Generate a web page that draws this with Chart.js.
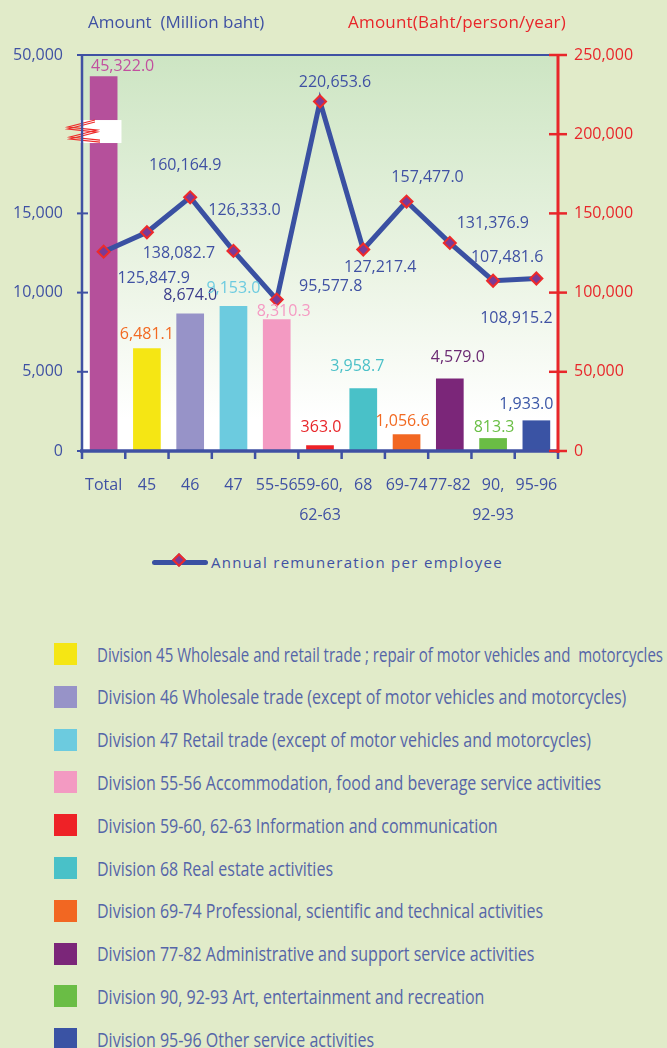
<!DOCTYPE html>
<html>
<head>
<meta charset="utf-8">
<script src="https://cdn.jsdelivr.net/npm/chart.js@4.4.1/dist/chart.umd.min.js"></script>
<style>
    body { margin: 0; background: #e1ebc9; width: 667px; height: 1048px; overflow: hidden; font-family: "Open Sans", sans-serif; }
    #wrap { position: relative; width: 667px; height: 540px; }
    .axis-title { position: absolute; top: 10px; font-size: 17px; white-space: pre; }
    #lineLegend { position: absolute; left: 152px; top: 550px; height: 24px; display: flex; align-items: center; }
    #lineLegend .swatch { position: relative; width: 56px; height: 5px; background: #3a50a2; border-radius: 3px; }
    #lineLegend .dot { position: absolute; left: 22px; top: -5px; width: 10px; height: 10px; background: #7a3a96; border: 2px solid #ee2a2a; box-sizing: border-box; transform: rotate(45deg); }
    #lineLegend span { margin-left: 3px; color: #3f51a3; font-size: 15px; letter-spacing: 1.3px; }
    .div-row { position: absolute; left: 54px; height: 24px; display: flex; align-items: center; }
    .div-row .box { width: 23px; height: 22px; }
    .div-row .txt { position: absolute; left: 43px; white-space: pre; font-size: 20px; color: #5565a8; transform-origin: left center; }
</style>
</head>
<body>
<div id="wrap">
    <canvas id="chart" width="667" height="540"></canvas>
    <div class="axis-title" style="left:88px;color:#3f51a3">Amount  (Million baht)</div>
    <div class="axis-title" style="left:348px;color:#e8262a;letter-spacing:0.2px">Amount(Baht/person/year)</div>
</div>
<div id="lineLegend"><div class="swatch"><div class="dot"></div></div><span>Annual remuneration per employee</span></div>
<div id="divLegend"></div>

<script>
// Data
const categories = ['Total', '45', '46', '47', '55-56', ['59-60,', '62-63'], '68', '69-74', '77-82', ['90,', '92-93'], '95-96'];
const amountMillion = [45322.0, 6481.1, 8674.0, 9153.0, 8310.3, 363.0, 3958.7, 1056.6, 4579.0, 813.3, 1933.0];
const remuneration = [125847.9, 138082.7, 160164.9, 126333.0, 95577.8, 220653.6, 127217.4, 157477.0, 131376.9, 107481.6, 108915.2];
const leftTicks = [0, 5000, 10000, 15000, 50000];
const rightTicks = [0, 50000, 100000, 150000, 200000, 250000];

const barColors = ['#b5509b', '#f5e614', '#9793c8', '#6ccbdf', '#f39ac2', '#ee2227', '#49c1c8', '#f26722', '#7b2679', '#6abd45', '#3a53a4'];
const barLabelColors = ['#c2509f', '#f26a22', '#3b3d8c', '#6ccbe0', '#f59ac3', '#e8262a', '#4bc0c8', '#f26a22', '#6b2a73', '#6abf45', '#3a56a6'];

const divisionNames = [
    'Division 45 Wholesale and retail trade ; repair of motor vehicles and  motorcycles',
    'Division 46 Wholesale trade (except of motor vehicles and motorcycles)',
    'Division 47 Retail trade (except of motor vehicles and motorcycles)',
    'Division 55-56 Accommodation, food and beverage service activities',
    'Division 59-60, 62-63 Information and communication',
    'Division 68 Real estate activities',
    'Division 69-74 Professional, scientific and technical activities',
    'Division 77-82 Administrative and support service activities',
    'Division 90, 92-93 Art, entertainment and recreation',
    'Division 95-96 Other service activities'
];

// where the value labels sit (dx, dy from the bar top / point)
const barLabelOffsets = [[19, -10], [0, -14], [0, -18], [0, -18], [7, -8], [1, -18], [-6, -22], [-4, -13], [8, -21], [1, -11], [-10, -16]];
const lineLabelOffsets = [[50, 27], [32, 21], [-5, -32], [11, -40], [54, -13], [15, -19], [17, 18], [21, -24], [43, -19], [14, -23], [-20, 40]];

// broken left axis: above 15,000 the scale is compressed
const BREAK_AT = 15000;
const BREAK_TOP = 50000;
const AXIS_TOP = 25000;
const BREAK_K = (AXIS_TOP - BREAK_AT) / (BREAK_TOP - BREAK_AT);
function toAxis(v) {
    return v <= BREAK_AT ? v : BREAK_AT + (v - BREAK_AT) * BREAK_K;
}

const fmt1 = v => v.toLocaleString('en-US', { minimumFractionDigits: 1, maximumFractionDigits: 1 });
const fmt0 = v => v.toLocaleString('en-US');

const BLUE = '#3f51a3';
const RED = '#e8262a';

// Plot background gradient
const plotBackground = {
    id: 'plotBackground',
    beforeDraw(chart) {
        const { ctx, chartArea: a } = chart;
        const g = ctx.createLinearGradient(0, a.top, 0, a.bottom);
        g.addColorStop(0, '#cde5c3');
        g.addColorStop(0.55, '#ebf4e4');
        g.addColorStop(0.92, '#ffffff');
        ctx.save();
        ctx.fillStyle = g;
        ctx.fillRect(a.left, a.top, a.right - a.left, a.bottom - a.top);
        ctx.restore();
    }
};

// Axis lines, ticks, break mark and value labels
const decorations = {
    id: 'decorations',
    afterDatasetsDraw(chart) {
        const { ctx, chartArea: a, scales } = chart;
        const y = scales.y, y2 = scales.y2;
        ctx.save();

        // break on the Total bar
        const bar = chart.getDatasetMeta(0).data[0];
        const by = y.getPixelForValue(20200);
        ctx.fillStyle = '#ffffff';
        ctx.fillRect(a.left - 2, by - 11, bar.x + bar.width / 2 + 4 - (a.left - 2), 23);
        ctx.strokeStyle = '#ee2a2a';
        ctx.lineWidth = 1.2;
        [0, 2].forEach(off => {
            ctx.beginPath();
            ctx.moveTo(a.left + 13, by - 11 + off);
            ctx.lineTo(a.left - 14, by - 4 + off);
            ctx.lineTo(a.left + 15, by - 1 + off);
            ctx.lineTo(a.left - 12, by + 6 + off);
            ctx.lineTo(a.left + 18, by + 9 + off);
            ctx.stroke();
        });

        // top border
        ctx.strokeStyle = BLUE;
        ctx.lineWidth = 2;
        ctx.beginPath();
        ctx.moveTo(a.left, a.top);
        ctx.lineTo(a.right, a.top);
        ctx.stroke();

        // left axis
        ctx.lineWidth = 2.5;
        ctx.beginPath();
        ctx.moveTo(a.left, a.top);
        ctx.lineTo(a.left, a.bottom);
        ctx.stroke();
        ctx.lineWidth = 2;
        leftTicks.forEach((t, i) => {
            const py = y.getPixelForValue(toAxis(t));
            ctx.beginPath();
            ctx.moveTo(a.left - 5, py);
            ctx.lineTo(a.left + (i === leftTicks.length - 1 ? 0 : 6), py);
            ctx.stroke();
        });

        // x axis
        ctx.lineWidth = 3.5;
        ctx.beginPath();
        ctx.moveTo(a.left - 2, a.bottom);
        ctx.lineTo(a.right, a.bottom);
        ctx.stroke();
        ctx.lineWidth = 2.5;
        const step = (a.right - a.left) / categories.length;
        for (let i = 0; i <= categories.length; i++) {
            const px = a.left + i * step;
            ctx.beginPath();
            ctx.moveTo(px, a.bottom);
            ctx.lineTo(px, a.bottom + 8);
            ctx.stroke();
        }

        // right axis
        ctx.strokeStyle = RED;
        ctx.lineWidth = 3;
        ctx.beginPath();
        ctx.moveTo(a.right, a.top);
        ctx.lineTo(a.right, a.bottom + 2);
        ctx.stroke();
        ctx.lineWidth = 2.5;
        rightTicks.forEach(t => {
            const py = y2.getPixelForValue(t);
            ctx.beginPath();
            ctx.moveTo(a.right - 9, py);
            ctx.lineTo(a.right + 9, py);
            ctx.stroke();
        });
        ctx.restore();
    },
    afterDraw(chart) {
        const { ctx } = chart;
        ctx.save();
        ctx.font = '16px "Open Sans"';
        ctx.textAlign = 'center';
        ctx.textBaseline = 'middle';
        chart.getDatasetMeta(0).data.forEach((bar, i) => {
            const [dx, dy] = barLabelOffsets[i];
            ctx.fillStyle = barLabelColors[i];
            ctx.fillText(fmt1(amountMillion[i]), bar.x + dx, bar.y + dy);
        });
        ctx.fillStyle = BLUE;
        chart.getDatasetMeta(1).data.forEach((pt, i) => {
            const [dx, dy] = lineLabelOffsets[i];
            ctx.fillText(fmt1(remuneration[i]), pt.x + dx, pt.y + dy);
        });
        ctx.restore();
    }
};

new Chart(document.getElementById('chart'), {
    data: {
        labels: categories,
        datasets: [
            {
                type: 'bar',
                data: amountMillion.map(toAxis),
                backgroundColor: barColors,
                yAxisID: 'y',
                categoryPercentage: 1,
                barPercentage: 0.64,
                order: 2
            },
            {
                type: 'line',
                data: remuneration,
                yAxisID: 'y2',
                borderColor: '#3a50a2',
                borderWidth: 5,
                pointStyle: 'rectRot',
                pointRadius: 6,
                pointBackgroundColor: '#7a3a96',
                pointBorderColor: '#ee2a2a',
                pointBorderWidth: 2,
                tension: 0,
                order: 1
            }
        ]
    },
    options: {
        responsive: false,
        animation: false,
        events: [],
        layout: { padding: { top: 55, left: 0, right: 0, bottom: 0 } },
        plugins: { legend: { display: false }, tooltip: { enabled: false } },
        scales: {
            x: {
                grid: { display: false, drawTicks: false },
                border: { display: false },
                ticks: { color: BLUE, font: { family: 'Open Sans', size: 16, lineHeight: 1.875 }, padding: 19, maxRotation: 0, autoSkip: false },
                afterFit(scale) { scale.height = 540 - 451; }
            },
            y: {
                position: 'left',
                min: 0,
                max: AXIS_TOP,
                grid: { display: false, drawTicks: false },
                border: { display: false },
                afterBuildTicks(scale) { scale.ticks = leftTicks.map(t => ({ value: toAxis(t) })); },
                ticks: { color: BLUE, font: { family: 'Open Sans', size: 16 }, padding: 19, callback: (v, i) => fmt0(leftTicks[i]) },
                afterFit(scale) { scale.width = 82; }
            },
            y2: {
                position: 'right',
                min: 0,
                max: 250000,
                grid: { display: false, drawTicks: false },
                border: { display: false },
                afterBuildTicks(scale) { scale.ticks = rightTicks.map(t => ({ value: t })); },
                ticks: { color: RED, font: { family: 'Open Sans', size: 16 }, padding: 16, callback: v => fmt0(v) },
                afterFit(scale) { scale.width = 667 - 558; }
            }
        }
    },
    plugins: [plotBackground, decorations]
});

// Division legend
const legendBox = document.getElementById('divLegend');
divisionNames.forEach((name, i) => {
    const row = document.createElement('div');
    row.className = 'div-row';
    row.style.top = (642 + i * 42.8) + 'px';
    row.innerHTML = `<div class="box" style="background:${barColors[i + 1]}"></div><div class="txt">${name}</div>`;
    legendBox.appendChild(row);
});
// squeeze the text so the first rows are about as long as in the picture,
// and never let a row run past the page edge
const texts = legendBox.querySelectorAll('.txt');
let measured = 0;
for (let i = 0; i < 4; i++) measured += texts[i].getBoundingClientRect().width;
const squeeze = (566 + 543 + 475 + 546) / measured;
texts.forEach(t => {
    const w = t.getBoundingClientRect().width;
    t.style.transform = `scaleX(${Math.min(squeeze, 566 / w)})`;
});
</script>
</body>
</html>
